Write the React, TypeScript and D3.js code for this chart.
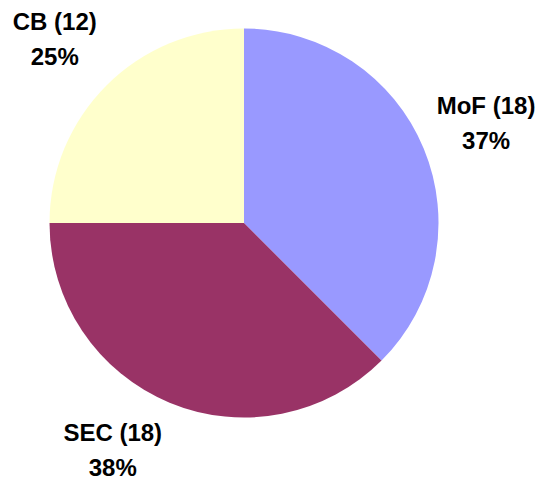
import React from "react";
import * as d3 from "d3";

const categories = ["MoF", "SEC", "CB"];
const values = [18, 18, 12];
const percentLabels = ["37%", "38%", "25%"];
const colors = ["#9999FF", "#993366", "#FFFFCC"];

const WIDTH = 545;
const HEIGHT = 480;
const CX = 244;
const CY = 223;
const RADIUS = 194.5;
const LABEL_RADIUS = 262;
// Excel-style manual nudges of the label blocks
const labelNudges: [number, number][] = [
  [0, 0],
  [-31, -15],
  [-4, 1],
];

export default function App() {
  const pie = d3
    .pie<number>()
    .sort(null)
    .value((d) => d)
    .startAngle(0)
    .endAngle(2 * Math.PI);
  const arcs = pie(values);
  const arcGen = d3
    .arc<d3.PieArcDatum<number>>()
    .innerRadius(0)
    .outerRadius(RADIUS);
  const labelArc = d3
    .arc<d3.PieArcDatum<number>>()
    .innerRadius(LABEL_RADIUS)
    .outerRadius(LABEL_RADIUS);

  return (
    <svg
      width={WIDTH}
      height={HEIGHT}
      style={{ position: "absolute", left: 0, top: 0, background: "#fff" }}
    >
      <g transform={`translate(${CX},${CY})`}>
        {arcs.map((a, i) => (
          <path key={i} d={arcGen(a) || ""} fill={colors[i]} stroke="none" />
        ))}
        {arcs.map((a, i) => {
          const [x, y] = labelArc.centroid(a);
          const lx = x + labelNudges[i][0];
          const ly = y + labelNudges[i][1];
          return (
            <text
              key={"l" + i}
              textAnchor="middle"
              fontFamily="'Liberation Sans', Arial, sans-serif"
              fontWeight="bold"
              fontSize={24}
              fill="#000"
            >
              <tspan x={lx} y={ly - 9}>
                {`${categories[i]} (${values[i]})`}
              </tspan>
              <tspan x={lx} y={ly + 26}>
                {percentLabels[i]}
              </tspan>
            </text>
          );
        })}
      </g>
    </svg>
  );
}
